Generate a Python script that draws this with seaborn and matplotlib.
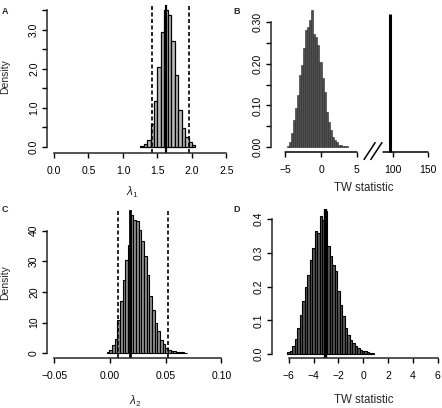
import numpy as np
import pandas as pd
import seaborn as sns
import matplotlib
matplotlib.use("Agg")
import matplotlib.pyplot as plt

# ---- data ----
# A: posterior of lambda_1
lam1_start, lam1_width = 1.25, 0.05
lam1_density = [0.03, 0.08, 0.18, 0.59, 1.18, 2.05, 2.95, 3.50, 3.38, 2.72,
                1.83, 0.95, 0.49, 0.26, 0.14, 0.04]
lam1_ci = [1.42, 1.95]
lam1_est = 1.63

# B: null TW distribution + observed statistic (broken axis)
twB_start, twB_width = -4.8, 0.285
twB_density = [0.003, 0.013, 0.033, 0.065, 0.093, 0.125, 0.173, 0.197, 0.237, 0.281,
               0.289, 0.305, 0.329, 0.273, 0.265, 0.245, 0.205, 0.165, 0.133, 0.085,
               0.061, 0.041, 0.025, 0.017, 0.013, 0.006, 0.004, 0.003, 0.002, 0.002]
twB_obs = 96
twB_obs_height = 0.32
twB_ticks = [-5, 0, 5, 100, 150]

# C: posterior of lambda_2
lam2_start, lam2_width = -0.003, 0.0024
lam2_density = [0.4, 1.2, 2.6, 4.7, 11.0, 17.0, 24.0, 30.5, 35.4, 45.0,
                43.5, 43.2, 40.3, 36.5, 31.6, 25.6, 18.6, 14.2, 9.9, 7.2,
                4.4, 3.0, 1.7, 1.2, 0.8, 0.6, 0.4, 0.3, 0.3, 0.2]
lam2_ci = [0.0075, 0.052]
lam2_est = 0.018

# D: null TW distribution + observed statistic
twD_start, twD_width = -6.1, 0.2
twD_density = [0.005, 0.010, 0.025, 0.045, 0.077, 0.116, 0.156, 0.198, 0.235, 0.279,
               0.314, 0.364, 0.358, 0.408, 0.398, 0.423, 0.319, 0.290, 0.265, 0.245,
               0.186, 0.146, 0.112, 0.077, 0.057, 0.042, 0.033, 0.023, 0.018, 0.013,
               0.010, 0.008, 0.006, 0.004, 0.003]
twD_obs = -3.05

sns.set_style("ticks")
plt.rcParams['font.family'] = ['Liberation Sans', 'DejaVu Sans']
plt.rcParams['mathtext.fontset'] = 'custom'
plt.rcParams['mathtext.it'] = 'Liberation Sans:italic'
plt.rcParams['mathtext.rm'] = 'Liberation Sans'

W, H = 442, 408
fig = plt.figure(figsize=(W / 100, H / 100), dpi=100)


def px_axes(left, top, right, bottom):
    # axes box given in pixels of the target picture
    return fig.add_axes([left / W, 1 - bottom / H, (right - left) / W, (bottom - top) / H])


def draw_hist(ax, start, width, dens, fill, edge, lw):
    n = len(dens)
    df = pd.DataFrame({'x': start + width * (np.arange(n) + 0.5), 'w': dens})
    sns.histplot(data=df, x='x', weights='w', binwidth=width,
                 binrange=(start, start + width * n), stat="count",
                 color=fill, edgecolor=edge, linewidth=lw, alpha=1, ax=ax)


def r_style(ax, xb=None, yb=None):
    for s in ['top', 'right']:
        ax.spines[s].set_visible(False)
    for s in ['left', 'bottom']:
        ax.spines[s].set_linewidth(1.1)
    if xb is not None:
        ax.spines['bottom'].set_bounds(*xb)
    if yb is not None:
        ax.spines['left'].set_bounds(*yb)
    ax.tick_params(direction='out', length=3.8, width=1.0, labelsize=7.5, colors='black')
    ax.tick_params(axis='x', pad=5.5)
    ax.tick_params(axis='y', pad=2, labelrotation=90)
    for t in ax.get_yticklabels():
        t.set_va('center')
    ax.set_xlabel('')
    ax.set_ylabel('')
    ax.set_facecolor('none')


dash = (0, (2.4, 1.5))

# ---- A ----
axA = px_axes(47, 4.7, 233.4, 153)
draw_hist(axA, lam1_start, lam1_width, lam1_density, '#b8b8b8', 'black', 0.9)
for v in lam1_ci:
    axA.axvline(v, color='black', lw=1.2, ls=dash)
axA.axvline(lam1_est, color='black', lw=1.6)
axA.set_xlim(-0.101, 2.6)
axA.set_ylim(-0.153, 3.64)
axA.set_xticks(np.arange(0, 2.51, 0.5))
axA.set_xticklabels(['0.0', '0.5', '1.0', '1.5', '2.0', '2.5'])
axA.set_yticks(np.arange(0, 3.51, 0.5))
axA.set_yticklabels(['0.0', '', '1.0', '', '2.0', '', '3.0', ''])
r_style(axA, (0, 2.5), (0, 3.5))

# ---- B ----
def to_axis(v):
    # right part of the broken axis is compressed by 10
    return v if v < 50 else v / 10


axB = px_axes(271, 8.66, 456.9, 152.3)
draw_hist(axB, twB_start, twB_width, twB_density, '#505050', '#2a2a2a', 0.4)
axB.set_xlim(-7.03, 19.0)
axB.set_ylim(-0.01275, 0.3328)
yb0 = axB.get_ylim()[0]
axB.plot([to_axis(twB_obs)] * 2, [yb0, twB_obs_height], color='black', lw=2.2,
         solid_capstyle='butt', clip_on=False)
axB.set_xticks([to_axis(v) for v in twB_ticks])
axB.set_xticklabels([str(v).replace('-', '\u2212') for v in twB_ticks])
axB.set_yticks(np.arange(0, 0.301, 0.05))
axB.set_yticklabels(['0.00', '', '0.10', '', '0.20', '', '0.30'])
r_style(axB, None, (0, 0.3))
axB.spines['bottom'].set_visible(False)
xt = axB.get_xaxis_transform()
axB.plot([-5, 5], [0, 0], color='black', lw=1.1, transform=xt, clip_on=False)
axB.plot([8.6, 15], [0, 0], color='black', lw=1.1, transform=xt, clip_on=False)
brk = 6.0
for off in [0, 0.95]:
    axB.plot([brk + off, brk + off + 1.55], [-0.03, 0.0105], color='black', lw=1.1,
             clip_on=False)

# ---- C ----
axC = px_axes(47, 209.9, 227.6, 358.3)
draw_hist(axC, lam2_start, lam2_width, lam2_density, '#8c8c8c', 'black', 0.8)
for v in lam2_ci:
    axC.axvline(v, color='black', lw=1.2, ls=dash)
axC.axvline(lam2_est, color='black', lw=2.0)
axC.set_xlim(-0.0566, 0.1056)
axC.set_ylim(-1.63, 46.79)
axC.set_xticks([-0.05, 0.0, 0.05, 0.10])
axC.set_xticklabels(['\u22120.05', '0.00', '0.05', '0.10'])
axC.set_yticks([0, 10, 20, 30, 40])
axC.set_yticklabels(['0', '10', '20', '30', '40'])
r_style(axC, (-0.05, 0.10), (0, 40))

# ---- D ----
axD = px_axes(271.7, 208.9, 456, 358.4)
draw_hist(axD, twD_start, twD_width, twD_density, '#555555', 'black', 0.8)
axD.axvline(twD_obs, color='black', lw=2.4)
axD.set_xlim(-7.37, 7.47)
axD.set_ylim(-0.013, 0.43)
axD.set_xticks([-6, -4, -2, 0, 2, 4, 6])
axD.set_xticklabels(['\u22126', '\u22124', '\u22122', '0', '2', '4', '6'])
axD.set_yticks([0, 0.1, 0.2, 0.3, 0.4])
axD.set_yticklabels(['0.0', '0.1', '0.2', '0.3', '0.4'])
r_style(axD, (-6, 6), (0, 0.4))

# ---- labels ----
def ftext(x, y, s, **kw):
    fig.text(x / W, 1 - y / H, s, ha='center', va='center', **kw)


ftext(5, 77, 'Density', rotation=90, fontsize=7.5)
ftext(5, 283, 'Density', rotation=90, fontsize=7.5)
ftext(132, 192, r'$\lambda_1$', fontsize=8.5)
ftext(135, 401, r'$\lambda_2$', fontsize=8.5)
ftext(364, 188, 'TW statistic', fontsize=8.3)
ftext(364, 400, 'TW statistic', fontsize=8.3)
for letter, x, y in [('A', 5, 12), ('B', 237, 12), ('C', 5, 210), ('D', 237, 210)]:
    ftext(x, y, letter, fontsize=6.5, fontweight='bold')

fig.savefig('out.png', dpi=100)
